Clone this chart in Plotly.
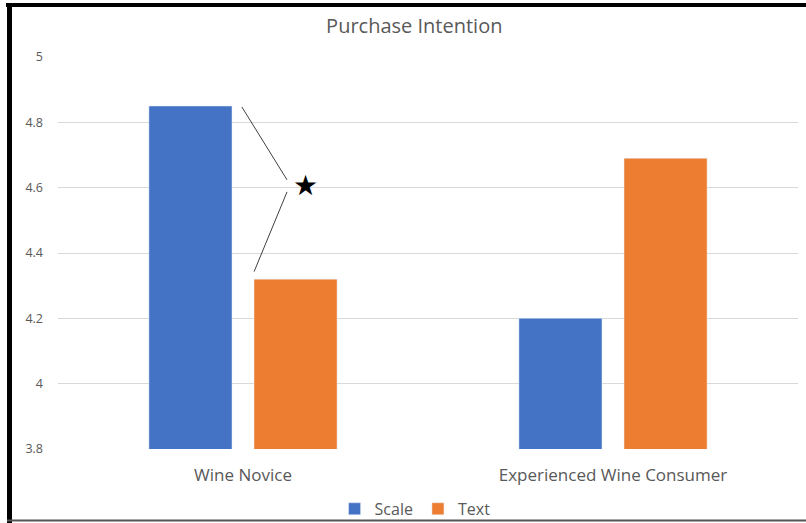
import plotly.graph_objects as go

categories = ["Wine Novice", "Experienced Wine Consumer"]
scale_vals = [4.85, 4.20]
text_vals = [4.32, 4.69]
y_ticks = [3.8, 4.0, 4.2, 4.4, 4.6, 4.8, 5.0]
y_tick_labels = ["3.8", "4", "4.2", "4.4", "4.6", "4.8", "5"]

fig = go.Figure()
fig.add_trace(go.Bar(name="Scale", x=categories, y=scale_vals, marker_color="#4472C4"))
fig.add_trace(go.Bar(name="Text", x=categories, y=text_vals, marker_color="#ED7D31"))

font_c = "#595959"
fig.update_layout(
    width=806, height=523,
    margin=dict(l=58, r=8, t=57, b=74, autoexpand=False),
    paper_bgcolor="white", plot_bgcolor="white",
    barmode="group", bargap=0.432, bargroupgap=0.2095,
    title=dict(text="Purchase Intention", x=0.514, xref="container", y=0.95, yanchor="middle",
               font=dict(family="Open Sans, Calibri, sans-serif", size=20, color=font_c)),
    font=dict(family="Open Sans, Calibri, sans-serif", color=font_c),
    xaxis=dict(range=[-0.5, 1.5], showgrid=False, showline=False, ticks="",
               ticklabelstandoff=14, tickfont=dict(size=17, color=font_c)),
    yaxis=dict(range=[3.8, 5.0], tickvals=y_ticks, ticktext=y_tick_labels,
               showgrid=True, gridcolor="#D9D9D9", gridwidth=1, zeroline=False,
               ticks="", ticklabelstandoff=14, tickfont=dict(size=12.5, color=font_c)),
    legend=dict(orientation="h", xref="container", x=0.515, xanchor="center",
                yref="container", y=0.027, yanchor="middle", bgcolor="rgba(0,0,0,0)",
                font=dict(size=16, color=font_c), itemwidth=30, traceorder="normal"),
    showlegend=True,
)

# significance bracket lines and star
fig.add_shape(type="line", xref="x", yref="y", x0=-0.003, y0=4.847, x1=0.119, y1=4.624,
              line=dict(color="#404040", width=1))
fig.add_shape(type="line", xref="x", yref="y", x0=0.119, y0=4.587, x1=0.030, y1=4.343,
              line=dict(color="#404040", width=1))
fig.add_annotation(x=0.170, y=4.606, xref="x", yref="y", text="★", showarrow=False,
                   font=dict(size=28, color="black", family="DejaVu Sans"))

# border of the screenshot frame
def px(xp):
    return (xp - 58) / 740.0
def py(yp):
    return (449 - yp) / 392.0

fig.add_shape(type="line", xref="paper", yref="paper", x0=px(9.5), x1=px(9.5), y0=py(3), y1=py(523),
              line=dict(color="black", width=5))
fig.add_shape(type="line", xref="paper", yref="paper", x0=px(6), x1=px(806), y0=py(5), y1=py(5),
              line=dict(color="black", width=4))
fig.add_shape(type="line", xref="paper", yref="paper", x0=px(7), x1=px(806), y0=py(520.5), y1=py(520.5),
              line=dict(color="#555555", width=2))

fig.write_html("out.html")
